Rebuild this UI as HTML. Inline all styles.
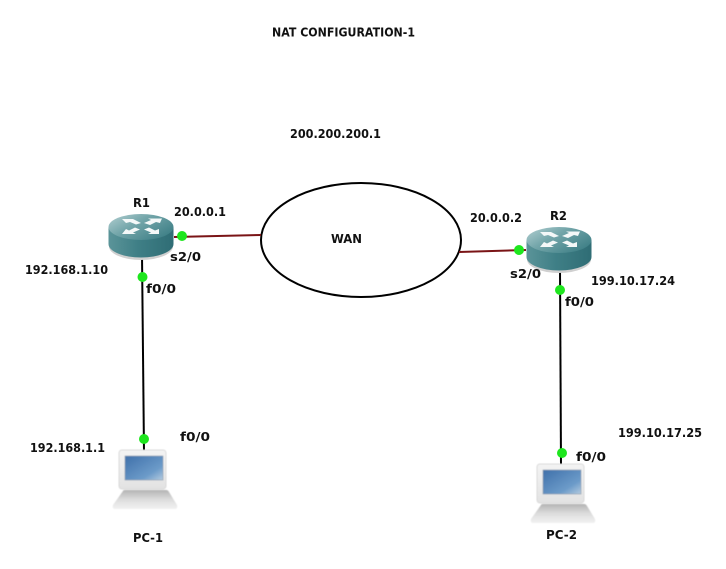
<!DOCTYPE html>
<html><head><meta charset="utf-8"><style>
html,body{margin:0;padding:0;background:#fff}
svg{display:block}
text{font-family:"DejaVu Sans","Liberation Sans",sans-serif;font-weight:bold;font-size:12.5px;fill:#111}
</style></head><body>
<svg width="726" height="569" viewBox="0 0 726 569" xmlns="http://www.w3.org/2000/svg">
<defs>
<linearGradient id="side" x1="0" x2="1" y1="0" y2="0"><stop offset="0" stop-color="#5b9499"/><stop offset=".45" stop-color="#3f7f86"/><stop offset="1" stop-color="#2f6d75"/></linearGradient>
<linearGradient id="top" x1="0" x2="1" y1="0" y2="0.7"><stop offset="0" stop-color="#b4d0d2"/><stop offset=".45" stop-color="#74a6aa"/><stop offset="1" stop-color="#3f8087"/></linearGradient>
<linearGradient id="scr" x1="0" x2="1" y1="0" y2="1"><stop offset="0" stop-color="#3f70aa"/><stop offset=".7" stop-color="#6c9bc9"/><stop offset="1" stop-color="#b4cbe0"/></linearGradient>
<linearGradient id="base" x1="0" x2="0" y1="0" y2="1"><stop offset="0" stop-color="#b4b4b4"/><stop offset=".5" stop-color="#dcdcdc"/><stop offset="1" stop-color="#f2f2f2"/></linearGradient>
<linearGradient id="mon" x1="0" x2="0" y1="0" y2="1"><stop offset="0" stop-color="#f4f4f4"/><stop offset="1" stop-color="#e2e2e2"/></linearGradient>
<filter id="soft" x="-5%" y="-5%" width="110%" height="110%"><feGaussianBlur stdDeviation=".4"/></filter>
<g id="router">
<path d="M-32 2V18A32 13.500 0 0 0 32 18V2Z" fill="#d0d0d0" transform="translate(0,1.500)"/>
<path d="M-32.500 0V17A32.500 13.500 0 0 0 32.500 17V0Z" fill="url(#side)"/>
<ellipse cx="0" cy="0" rx="32.500" ry="13" fill="url(#top)"/>
<g fill="#f4f8f8">
<path d="M-19-8-8-8-5-6.500 0-4-5-2.500-11-5-15-4Z"/>
<path d="M21-8.500 19-4 15-5 9-2 3-4 10-7 7-8.500Z"/>
<path d="M-19 7-15 2-12 3.500-6 .5-1 2.500-8 5.500-5 7Z"/>
<path d="M18 7 7 7 10 5.500 3 2.500 8 .5 14 3.500 18 2Z"/>
</g>
</g>
<g id="pc" filter="url(#soft)">
<path d="M10 41Q10 40 12 40H53Q55 40 56 42L64 55Q65 59 62 59H2Q-1 59 0 55Z" fill="url(#base)"/>
<rect x="6" y="0" width="47" height="39" rx="3" fill="url(#mon)" stroke="#dadada"/>
<rect x="12" y="6" width="38" height="24" fill="url(#scr)" stroke="#8a9aac" stroke-width=".6"/>
</g>
</defs>

<ellipse cx="361" cy="240" rx="100" ry="57" fill="#fff" stroke="#000" stroke-width="2"/>
<line x1="174" y1="237" x2="261" y2="235" stroke="#7a1416" stroke-width="2"/>
<line x1="459" y1="252" x2="526" y2="250" stroke="#7a1416" stroke-width="2"/>
<line x1="142" y1="255" x2="144" y2="452" stroke="#000" stroke-width="2"/>
<line x1="560" y1="270" x2="561" y2="465" stroke="#000" stroke-width="2"/>

<use href="#router" x="141" y="227"/>
<use href="#router" x="559" y="240"/>
<use href="#pc" x="113" y="450"/>
<use href="#pc" x="531" y="464"/>

<circle cx="182" cy="236" r="5" fill="#1ee61e"/>
<circle cx="519" cy="250" r="5" fill="#1ee61e"/>
<circle cx="142.500" cy="277" r="5" fill="#1ee61e"/>
<circle cx="144" cy="439" r="5" fill="#1ee61e"/>
<circle cx="560" cy="290" r="5" fill="#1ee61e"/>
<circle cx="562" cy="453" r="5" fill="#1ee61e"/>

<text x="272" y="36.500" textLength="143" lengthAdjust="spacingAndGlyphs">NAT CONFIGURATION-1</text>
<text x="290" y="138" textLength="91" lengthAdjust="spacingAndGlyphs">200.200.200.1</text>
<text x="331" y="243" textLength="31" lengthAdjust="spacingAndGlyphs">WAN</text>
<text x="133" y="207" textLength="17" lengthAdjust="spacingAndGlyphs">R1</text>
<text x="550" y="220" textLength="17" lengthAdjust="spacingAndGlyphs">R2</text>
<text x="174" y="216" textLength="52" lengthAdjust="spacingAndGlyphs">20.0.0.1</text>
<text x="470" y="222" textLength="52" lengthAdjust="spacingAndGlyphs">20.0.0.2</text>
<text x="170" y="261" textLength="31" lengthAdjust="spacingAndGlyphs">s2/0</text>
<text x="510" y="278" textLength="31" lengthAdjust="spacingAndGlyphs">s2/0</text>
<text x="25" y="274" textLength="83" lengthAdjust="spacingAndGlyphs">192.168.1.10</text>
<text x="146" y="293" textLength="30" lengthAdjust="spacingAndGlyphs">f0/0</text>
<text x="591" y="285" textLength="84" lengthAdjust="spacingAndGlyphs">199.10.17.24</text>
<text x="565" y="306" textLength="29" lengthAdjust="spacingAndGlyphs">f0/0</text>
<text x="30" y="452" textLength="75" lengthAdjust="spacingAndGlyphs">192.168.1.1</text>
<text x="180" y="441" textLength="30" lengthAdjust="spacingAndGlyphs">f0/0</text>
<text x="618" y="437" textLength="84" lengthAdjust="spacingAndGlyphs">199.10.17.25</text>
<text x="576" y="461" textLength="30" lengthAdjust="spacingAndGlyphs">f0/0</text>
<text x="133" y="542" textLength="30" lengthAdjust="spacingAndGlyphs">PC-1</text>
<text x="546" y="539" textLength="31" lengthAdjust="spacingAndGlyphs">PC-2</text>
</svg>
</body></html>
